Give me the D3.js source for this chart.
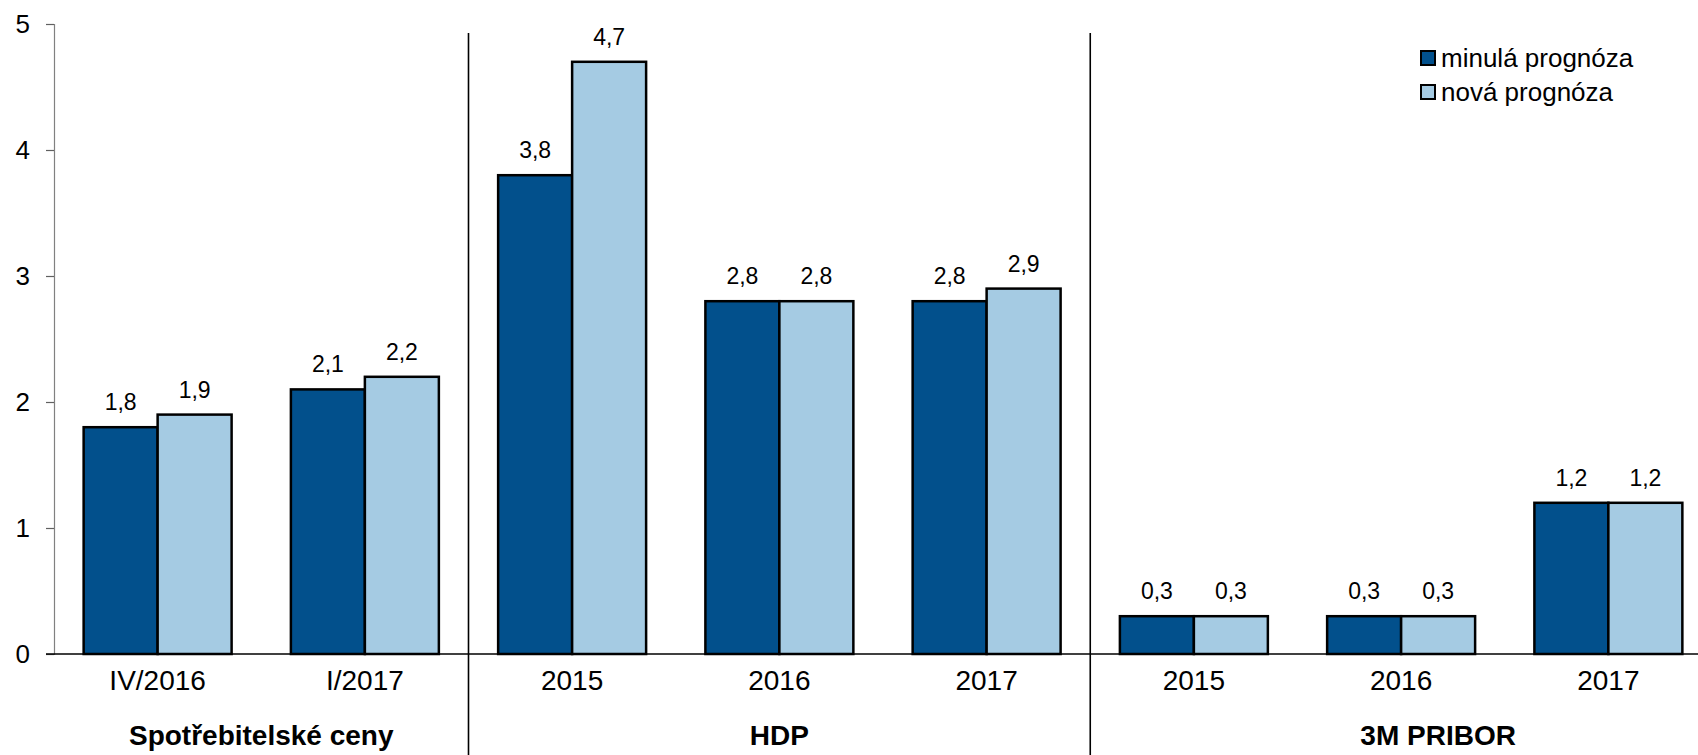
<!DOCTYPE html>
<html>
<head>
<meta charset="utf-8">
<script src="https://cdn.jsdelivr.net/npm/d3@7"></script>
<style>
  html, body { margin: 0; padding: 0; background: #fff; }
  svg { display: block; font-family: "Liberation Sans", Arial, sans-serif; }
</style>
</head>
<body>
<svg id="chart" width="1698" height="755"></svg>
<script>
const categories = ["IV/2016", "I/2017", "2015", "2016", "2017", "2015", "2016", "2017"];
const seriesNames = ["minulá prognóza", "nová prognóza"];
const previousForecast = [1.8, 2.1, 3.8, 2.8, 2.8, 0.3, 0.3, 1.2];
const newForecast = [1.9, 2.2, 4.7, 2.8, 2.9, 0.3, 0.3, 1.2];
const groupNames = ["Spotřebitelské ceny", "HDP", "3M PRIBOR"];
const groupSizes = [2, 3, 3];
const yTicks = [0, 1, 2, 3, 4, 5];

(function () {
const colors = ["#02508C", "#A5CBE3"];
const svg = d3.select("#chart");

const plotLeft = 54, plotRight = 1712, plotTop = 24, plotBottom = 654;
const idx = categories.map((d, i) => i);
const x0 = d3.scaleBand().domain(idx).range([plotLeft, plotRight]).paddingInner(0).paddingOuter(0);
const bw = x0.bandwidth();
const groupW = bw * 0.714;
const x1 = d3.scaleBand().domain([0, 1]).range([(bw - groupW) / 2, (bw + groupW) / 2]);
const y = d3.scaleLinear().domain([0, 5]).range([plotBottom, plotTop]);

const seriesData = [previousForecast, newForecast];
const fmt = v => d3.format(".1f")(v).replace(".", ",");

// y axis
const yAxis = d3.axisLeft(y).tickValues(yTicks).tickSize(8).tickPadding(16).tickFormat(d3.format("d"));
const gy = svg.append("g").attr("transform", `translate(${plotLeft},0)`).call(yAxis);
gy.select(".domain").attr("stroke", "#808080").attr("stroke-width", 1.2);
gy.selectAll(".tick line").attr("stroke", "#606060").attr("stroke-width", 1.2);
gy.selectAll(".tick text").attr("font-size", 26).attr("fill", "#000")
  .attr("font-family", '"Liberation Sans", Arial, sans-serif');

// bars
const cat = svg.append("g").selectAll("g").data(idx).join("g")
  .attr("transform", i => `translate(${x0(i)},0)`);
[0, 1].forEach(s => {
  cat.append("rect")
    .attr("x", x1(s))
    .attr("width", x1.bandwidth())
    .attr("y", i => y(seriesData[s][i]))
    .attr("height", i => y(0) - y(seriesData[s][i]))
    .attr("fill", colors[s])
    .attr("stroke", "#000")
    .attr("stroke-width", 2.5);
  cat.append("text")
    .attr("x", x1(s) + x1.bandwidth() / 2)
    .attr("y", i => y(seriesData[s][i]) - 17)
    .attr("text-anchor", "middle")
    .attr("font-size", 23)
    .attr("fill", "#000")
    .text(i => fmt(seriesData[s][i]));
});

// x axis line
svg.append("line").attr("x1", 46).attr("x2", 1698).attr("y1", y(0)).attr("y2", y(0))
  .attr("stroke", "#000").attr("stroke-width", 1.5);

// category labels
svg.append("g").selectAll("text").data(idx).join("text")
  .attr("x", i => x0(i) + bw / 2)
  .attr("y", 690)
  .attr("text-anchor", "middle")
  .attr("font-size", 28)
  .attr("fill", "#000")
  .text(i => categories[i]);

// group separators and labels
let start = 0;
const groupLabelOffset = [0, 0, 37];
groupNames.forEach((g, gi) => {
  const end = start + groupSizes[gi];
  const xs = x0(start), xe = x0(end - 1) + bw;
  if (gi > 0) {
    svg.append("line").attr("x1", xs).attr("x2", xs).attr("y1", 33).attr("y2", 755)
      .attr("stroke", "#000").attr("stroke-width", 1.6);
  }
  svg.append("text")
    .attr("x", (xs + xe) / 2 + groupLabelOffset[gi])
    .attr("y", 745)
    .attr("text-anchor", "middle")
    .attr("font-size", 28)
    .attr("font-weight", "bold")
    .attr("fill", "#000")
    .text(g);
  start = end;
});

// legend
const lg = svg.append("g").selectAll("g").data(seriesNames).join("g")
  .attr("transform", (d, i) => `translate(1421,${51 + i * 34})`);
lg.append("rect").attr("width", 14).attr("height", 14)
  .attr("fill", (d, i) => colors[i]).attr("stroke", "#000").attr("stroke-width", 2);
lg.append("text").attr("x", 20).attr("y", 7).attr("dominant-baseline", "central")
  .attr("font-size", 26).attr("fill", "#000").text(d => d);
})();
</script>
</body>
</html>
